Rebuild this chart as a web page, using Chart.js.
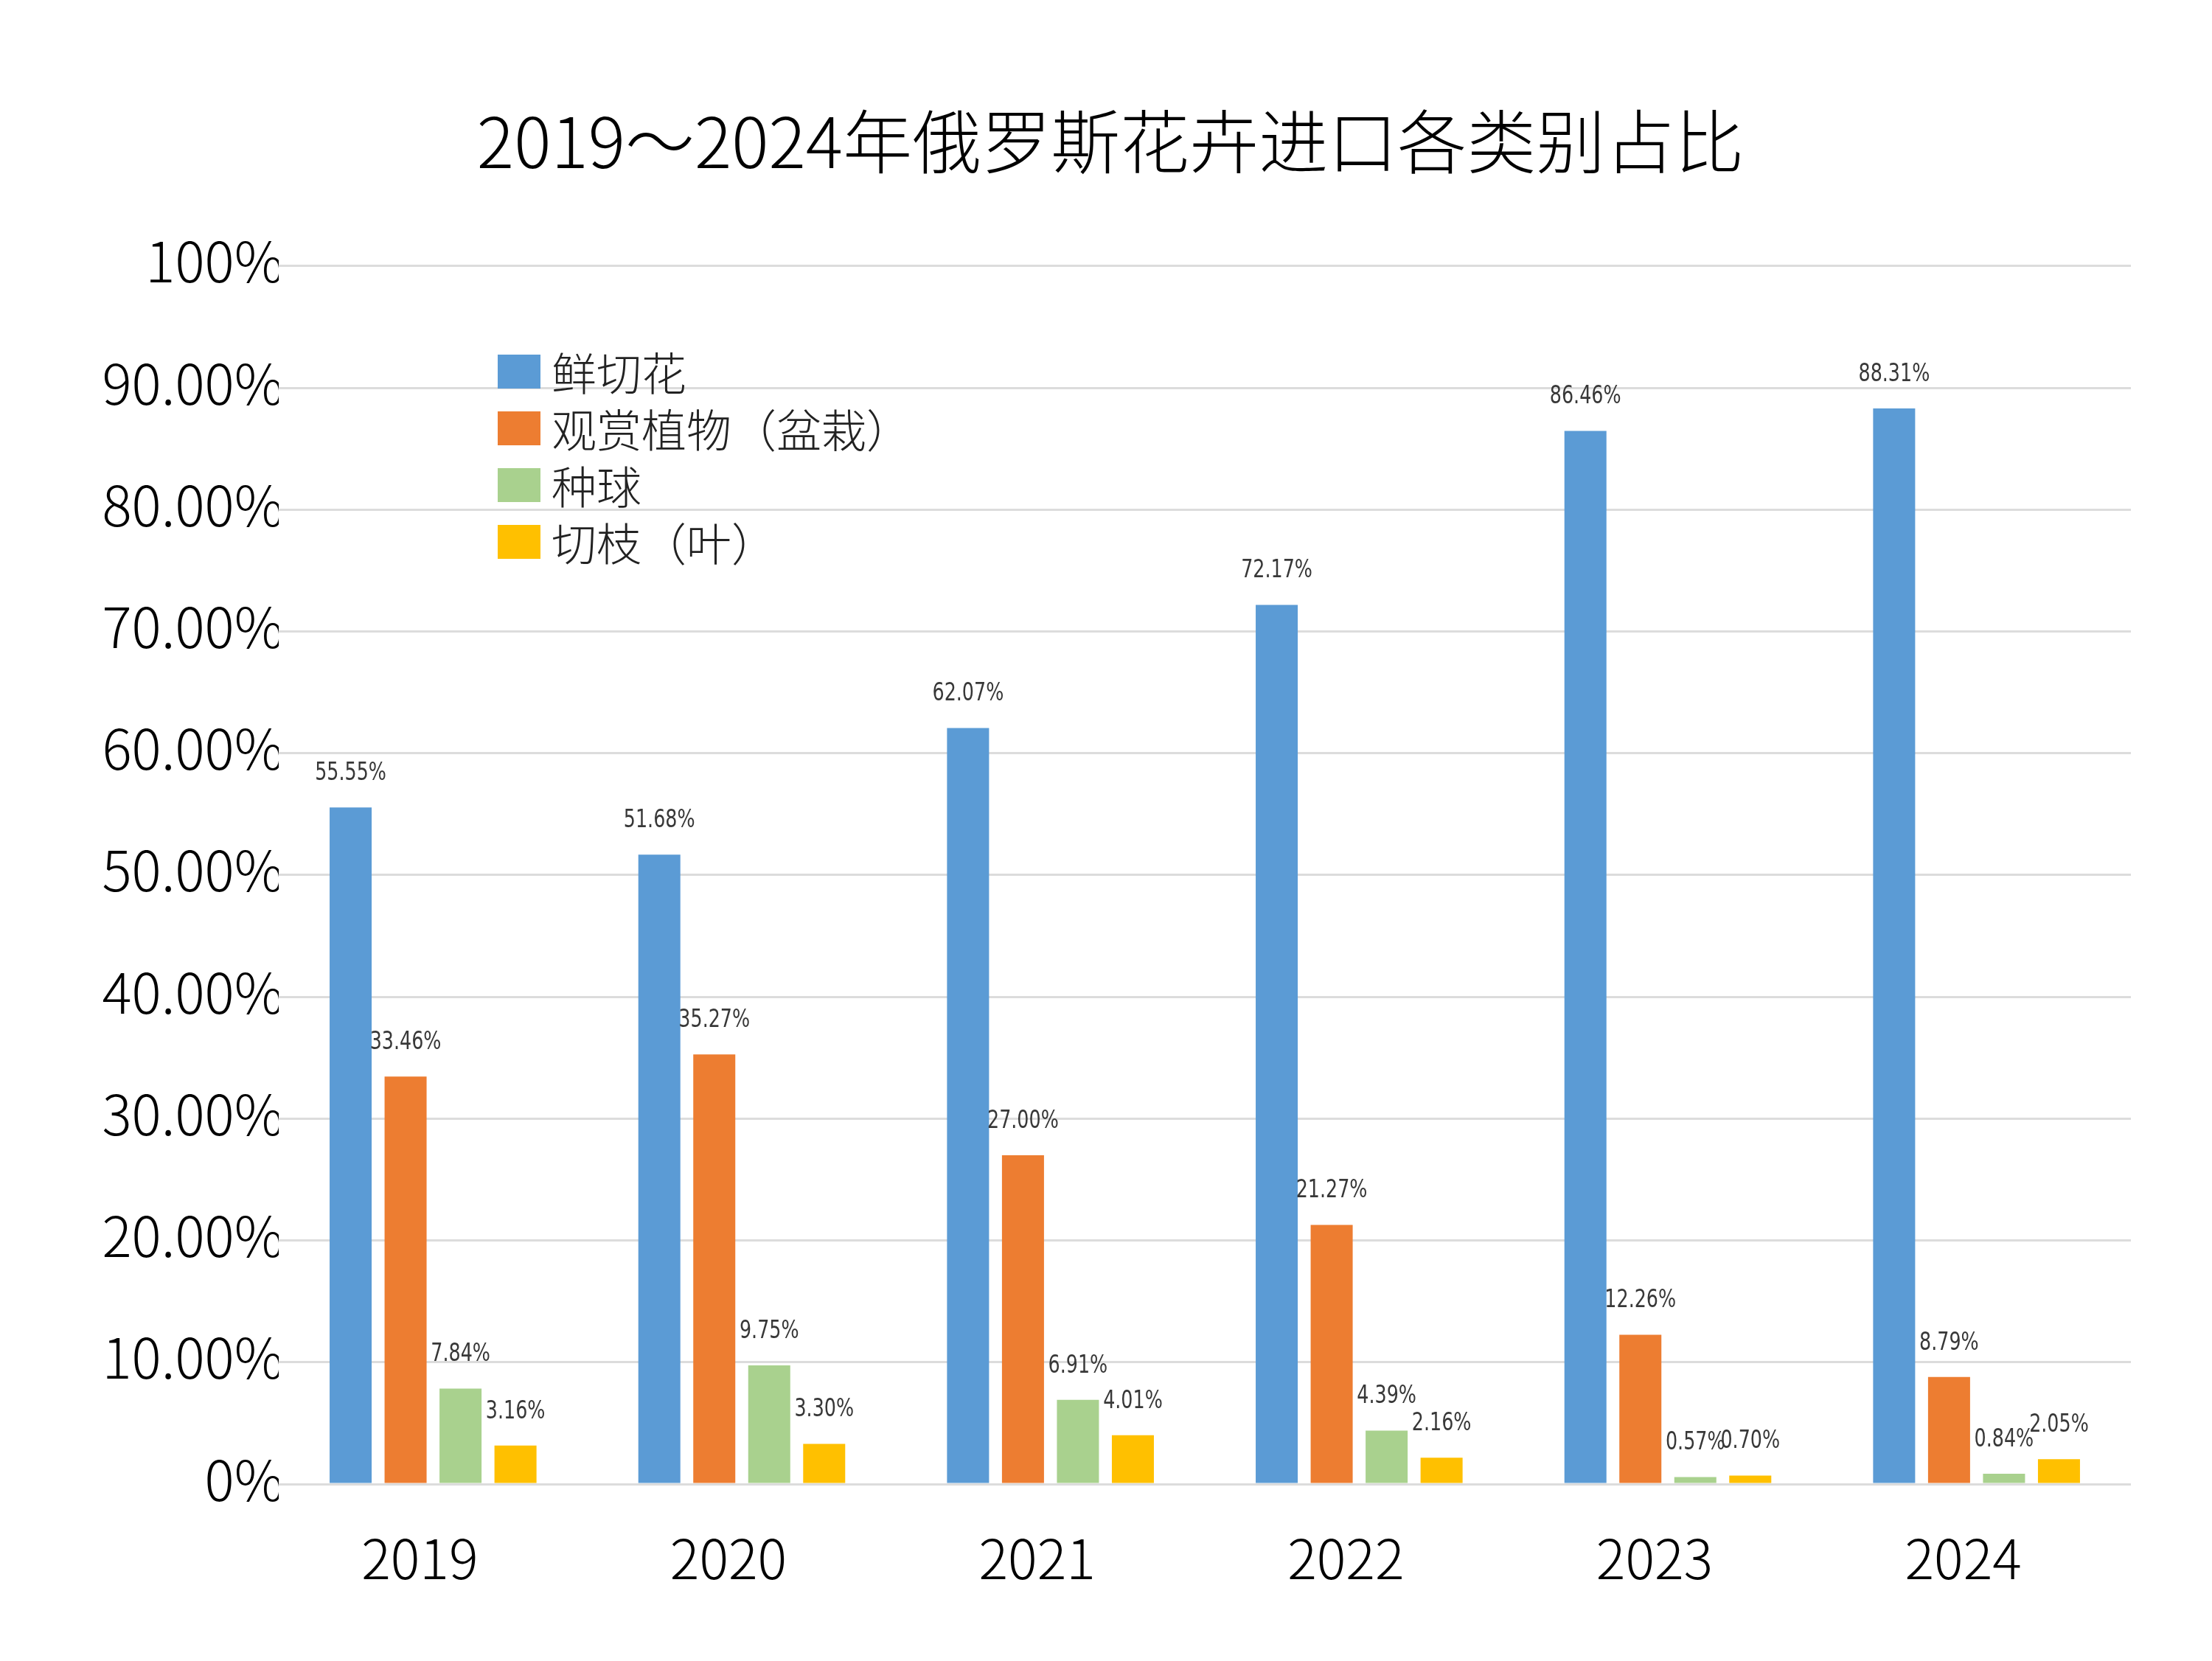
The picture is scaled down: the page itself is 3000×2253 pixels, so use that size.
<!DOCTYPE html>
<html lang="zh-CN">
<head>
<meta charset="utf-8">
<title>2019～2024年俄罗斯花卉进口各类别占比</title>
<script src="https://cdn.jsdelivr.net/npm/chart.js@4.4.1/dist/chart.umd.min.js"></script>
<style>
  html, body { margin: 0; padding: 0; background: #fff; }
  #wrap { position: relative; width: 3000px; height: 2253px; }
  #legend {
    position: absolute; left: 675px; top: 465px;
    font-family: "Noto Sans CJK SC", sans-serif; font-weight: 300;
    font-size: 61px; color: #222;
  }
  .item { display: flex; align-items: center; height: 77px; }
  .box { width: 58px; height: 46px; margin-right: 15px; }
</style>
</head>
<body>
<div id="wrap">
  <canvas id="chart" width="3000" height="2253"></canvas>
  <div id="legend"></div>
</div>
<script>
// data
const years = ['2019', '2020', '2021', '2022', '2023', '2024'];
const seriesNames = ['鲜切花', '观赏植物（盆栽）', '种球', '切枝（叶）'];
const freshFlowers = [55.55, 51.68, 62.07, 72.17, 86.46, 88.31];
const pottedPlants = [33.46, 35.27, 27.00, 21.27, 12.26, 8.79];
const bulbs = [7.84, 9.75, 6.91, 4.39, 0.57, 0.84];
const cutFoliage = [3.16, 3.30, 4.01, 2.16, 0.70, 2.05];
const yTicks = [0, 10, 20, 30, 40, 50, 60, 70, 80, 90, 100];
const yTickLabels = ['0%', '10.00%', '20.00%', '30.00%', '40.00%', '50.00%',
                     '60.00%', '70.00%', '80.00%', '90.00%', '100%'];

const colors = ['#5B9BD5', '#ED7D31', '#A9D18E', '#FFC000'];
const cjkFont = '"Noto Sans CJK SC", "Noto Sans", sans-serif';

// value labels above each bar (text squeezed a bit, the original uses a narrow face)
const valueLabels = {
    id: 'valueLabels',
    afterDatasetsDraw(chart) {
        const ctx = chart.ctx;
        const squeeze = 0.83;
        ctx.save();
        ctx.font = '34px "Liberation Sans Narrow", "DejaVu Sans Condensed", sans-serif';
        ctx.fillStyle = '#383838';
        ctx.textAlign = 'center';
        ctx.textBaseline = 'middle';
        ctx.scale(squeeze, 1);
        chart.data.datasets.forEach((ds, i) => {
            chart.getDatasetMeta(i).data.forEach((bar, j) => {
                ctx.fillText(ds.data[j].toFixed(2) + '%', bar.x / squeeze, bar.y - 46);
            });
        });
        ctx.restore();
    }
};

const seriesData = [freshFlowers, pottedPlants, bulbs, cutFoliage];

const chart = new Chart(document.getElementById('chart').getContext('2d'), {
    type: 'bar',
    data: {
        labels: years,
        datasets: seriesNames.map((name, i) => ({
            label: name,
            data: seriesData[i],
            backgroundColor: colors[i],
            borderWidth: 0,
            categoryPercentage: 0.712,
            barPercentage: 0.765
        }))
    },
    options: {
        responsive: false,
        animation: false,
        devicePixelRatio: 1,
        layout: { padding: { left: 122, right: 110, top: 0, bottom: 0 } },
        scales: {
            x: {
                grid: { display: false },
                border: { display: false },
                ticks: {
                    color: '#000',
                    padding: 48,
                    labelOffset: -18,
                    font: { family: cjkFont, size: 74, weight: 300 }
                },
                afterFit(scale) { scale.height = 240; }
            },
            y: {
                min: 0,
                max: 100,
                border: { display: false },
                grid: { color: '#dcdcdc', lineWidth: 3, drawTicks: false },
                ticks: {
                    stepSize: 10,
                    padding: -7,
                    labelOffset: -6,
                    color: '#000',
                    font: { family: cjkFont, size: 75, weight: 300 },
                    callback: (v) => yTickLabels[yTicks.indexOf(v)]
                },
                afterFit(scale) { scale.width = 256; }
            }
        },
        plugins: {
            legend: { display: false },
            tooltip: { enabled: false },
            title: {
                display: true,
                text: '2019～2024年俄罗斯花卉进口各类别占比',
                color: '#000',
                font: { family: cjkFont, size: 94, weight: 300 },
                padding: { top: 136, bottom: 112 }
            }
        }
    },
    plugins: [valueLabels]
});

// legend built from the chart's datasets
const legendDiv = document.getElementById('legend');
chart.data.datasets.forEach(ds => {
    const row = document.createElement('div');
    row.className = 'item';
    row.innerHTML = `<span class="box" style="background:${ds.backgroundColor}"></span><span>${ds.label}</span>`;
    legendDiv.appendChild(row);
});
</script>
</body>
</html>
